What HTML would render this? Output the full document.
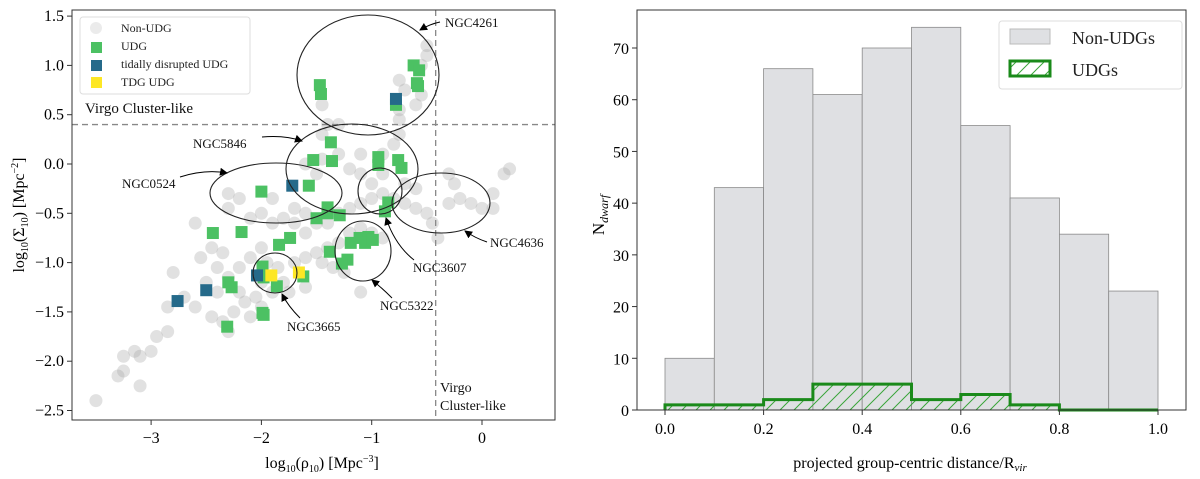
<!DOCTYPE html>
<html><head><meta charset="utf-8">
<style>
html,body{margin:0;padding:0;background:#fff;}
svg{display:block;font-family:"Liberation Serif","DejaVu Serif",serif;}
</style></head>
<body>
<svg id="fig" width="1200" height="479" viewBox="0 0 1200 479" xmlns="http://www.w3.org/2000/svg">
<defs>
<pattern id="hatch" patternUnits="userSpaceOnUse" width="14" height="14">
<path d="M-2,16 L16,-2 M-9,9 L9,-9 M5,23 L23,5" stroke="#3aa53a" stroke-width="1"/>
</pattern>
<marker id="arr" markerWidth="8" markerHeight="8" refX="7" refY="4" orient="auto"><path d="M0,0 L8,4 L0,8 z" fill="#000"/></marker>
<clipPath id="lclip"><rect x="72" y="10" width="483" height="410"/></clipPath>
</defs>
<g id="left"></g>
<g id="right"></g>
</svg>
<script>
// ---- Left scatter data (log10 rho10, log10 Sigma10) ----
const nonUdgX = [-3.5,-3.3,-3.25,-3.1,-3.25,-3.15,-3.1,-3.0,-2.95,-2.85,-2.85,-2.7,-2.6,-2.45,-2.4,-2.4,-2.35,-2.3,-2.25,-2.2,-2.15,-2.1,-2.05,-2.5,-2.55,-2.45,-2.35,-2.3,-2.2,-2.1,-2.0,-1.95,-1.85,-1.8,-1.75,-1.9,-2.0,-1.7,-1.6,-1.5,-1.45,-1.35,-1.25,-1.4,-1.3,-1.2,-1.1,-1.0,-0.9,-1.6,-1.7,-1.8,-1.9,-2.0,-2.1,-2.3,-2.3,-2.2,-1.9,-1.7,-1.6,-1.5,-1.4,-1.3,-1.2,-1.1,-1.0,-0.9,-0.8,-0.7,-0.6,-0.5,-1.0,-1.1,-1.2,-0.9,-0.7,-0.6,-1.5,-1.45,-1.6,-1.3,-1.1,-0.9,-0.8,-0.75,-0.75,-0.75,-0.7,-0.75,-0.6,-0.55,-0.5,-0.5,-0.55,-1.45,-1.4,-1.45,-1.3,-0.3,-0.25,-0.2,-0.1,0.0,0.1,0.2,0.25,-0.3,0.1,-2.6,-2.8,-2.0,-1.6,-1.1,-0.4,-0.45];
const nonUdgY = [-2.4,-2.15,-2.1,-2.25,-1.95,-1.9,-1.95,-1.9,-1.75,-1.7,-1.45,-1.35,-1.45,-1.55,-1.3,-1.05,-1.6,-1.7,-1.5,-1.3,-1.4,-1.55,-1.35,-1.2,-0.95,-0.85,-0.9,-1.15,-1.05,-0.95,-0.85,-1.0,-1.05,-1.2,-1.3,-1.3,-1.2,-1.0,-0.95,-0.9,-1.0,-1.05,-1.1,-0.85,-0.8,-0.7,-0.65,-0.7,-0.75,-0.7,-0.6,-0.55,-0.6,-0.5,-0.55,-0.45,-0.3,-0.35,-0.35,-0.45,-0.5,-0.6,-0.6,-0.5,-0.45,-0.4,-0.35,-0.3,-0.35,-0.4,-0.45,-0.5,-0.2,-0.1,-0.05,-0.1,-0.2,-0.25,-0.1,0.05,0.0,0.1,0.1,0.1,0.2,0.3,0.45,0.55,0.75,0.85,0.6,0.7,1.1,1.2,1.0,0.6,0.4,0.3,0.4,-0.1,-0.2,-0.35,-0.4,-0.45,-0.3,-0.1,-0.05,-0.4,-0.45,-0.6,-1.1,-1.45,-1.25,-1.3,-0.75,-0.6];
const udgX = [-1.47,-1.46,-0.62,-0.57,-0.59,-0.58,-0.78,-1.37,-1.53,-1.36,-0.94,-0.94,-0.76,-0.73,-1.57,-2.0,-0.85,-0.88,-1.4,-1.4,-1.29,-1.5,-2.44,-2.18,-1.84,-1.74,-1.38,-1.19,-1.11,-1.03,-1.06,-0.99,-1.22,-1.27,-1.99,-1.98,-1.62,-1.86,-2.3,-2.27,-1.99,-1.98,-2.31];
const udgY = [0.8,0.71,1.0,0.95,0.82,0.79,0.6,0.22,0.04,0.03,0.07,-0.01,0.04,-0.04,-0.22,-0.28,-0.39,-0.48,-0.44,-0.5,-0.52,-0.55,-0.7,-0.69,-0.82,-0.75,-0.89,-0.8,-0.75,-0.74,-0.8,-0.77,-0.97,-1.01,-1.04,-1.15,-1.14,-1.24,-1.2,-1.25,-1.51,-1.53,-1.65];
const tidalX = [-1.72,-0.78,-2.04,-2.5,-2.76];
const tidalY = [-0.22,0.66,-1.13,-1.28,-1.39];
const tdgX = [-1.91,-1.66];
const tdgY = [-1.13,-1.1];
const leftXTicks = [-3,-2,-1,0];
const leftYTicks = [1.5,1.0,0.5,0.0,-0.5,-1.0,-1.5,-2.0,-2.5];
// ---- Right histogram data ----
const binEdges = [0,0.1,0.2,0.3,0.4,0.5,0.6,0.7,0.8,0.9,1.0];
const nonUdgCounts = [10,43,66,61,70,74,55,41,34,23];
const udgCounts = [1,1,2,5,5,2,3,1,0,0];
const rightXTicks = [0.0,0.2,0.4,0.6,0.8,1.0];
const rightYTicks = [0,10,20,30,40,50,60,70];

const NS="http://www.w3.org/2000/svg";
function mk(parent,tag,attrs,text){const e=document.createElementNS(NS,tag);for(const k in attrs)e.setAttribute(k,attrs[k]);if(text!==undefined)e.textContent=text;parent.appendChild(e);return e;}

// ---------- LEFT ----------
const L=document.getElementById('left');
const lx=v=>482+v*110.3, ly=v=>164-v*98.6;
const pts=mk(L,'g',{'clip-path':'url(#lclip)'});


nonUdgX.forEach((x,i)=>{const c=mk(pts,'circle',{cx:lx(x),cy:ly(nonUdgY[i]),r:6.5,fill:'#a8a8a8','fill-opacity':0.35});

});
function squares(xs,ys,col,name){xs.forEach((x,i)=>{const r=mk(pts,'rect',{x:lx(x)-6,y:ly(ys[i])-6,width:12,height:12,fill:col});

});}
squares(udgX,udgY,'#4cc163','udg-point');
squares(tidalX,tidalY,'#256a8a','tidal-udg-point');
squares(tdgX,tdgY,'#fde725','tdg-udg-point');
mk(L,'line',{x1:72,x2:555,y1:ly(0.4),y2:ly(0.4),stroke:'#888','stroke-dasharray':'6,4','stroke-width':1.3,});
mk(L,'line',{x1:lx(-0.42),x2:lx(-0.42),y1:10,y2:420,stroke:'#888','stroke-dasharray':'6,4','stroke-width':1.3,});
const ells=[['ngc4261',368,75,71,60],['ngc5846',352,169,66,45],['ngc0524',276,193,66,30],['ngc3607',380,191,22,23],['ngc4636',441,203,49,30],['ngc5322',363,251,28,30],['ngc3665',275,273,22,20]];
ells.forEach(e=>{mk(L,'ellipse',{cx:e[1],cy:e[2],rx:e[3],ry:e[4],fill:'none',stroke:'#222','stroke-width':1.1,});});
const labels=[['NGC4261',445,27,'M440,22 Q430,24 420,30'],['NGC5846',193,148,'M262,137 Q285,135 302,141'],['NGC0524',122,188,'M180,177 Q205,169 227,173'],['NGC4636',490,247,'M487,242 Q475,238 465,231'],['NGC3607',413,272,'M414,260 Q395,245 386,218'],['NGC5322',380,310,'M392,298 Q382,288 372,280'],['NGC3665',287,331,'M300,318 Q288,306 282,294']];
labels.forEach(l=>{mk(L,'path',{d:l[3],fill:'none',stroke:'#000','stroke-width':1,'marker-end':'url(#arr)',});
mk(L,'text',{x:l[1],y:l[2],'font-size':13,fill:'#111',},l[0]);});
mk(L,'text',{x:85,y:113,'font-size':15,fill:'#111',},'Virgo Cluster-like');
mk(L,'text',{x:440,y:392,'font-size':14,fill:'#111',},'Virgo');
mk(L,'text',{x:440,y:410,'font-size':14,fill:'#111',},'Cluster-like');
mk(L,'rect',{x:72,y:10,width:483,height:410,fill:'none',stroke:'#333','stroke-width':1,});
leftXTicks.forEach(t=>{mk(L,'line',{x1:lx(t),x2:lx(t),y1:420,y2:425,stroke:'#333'});
mk(L,'text',{x:lx(t),y:443,'font-size':16,'text-anchor':'middle',},t===0?'0':'\u2212'+Math.abs(t));});
leftYTicks.forEach(t=>{mk(L,'line',{x1:67,x2:72,y1:ly(t),y2:ly(t),stroke:'#333'});
mk(L,'text',{x:64,y:ly(t)+5,'font-size':16,'text-anchor':'end',},(t<0?'\u2212':'')+Math.abs(t).toFixed(1));});
const xl=mk(L,'text',{x:322,y:468,'font-size':16,'text-anchor':'middle',});
xl.innerHTML='log<tspan font-size="10" dy="4">10</tspan><tspan dy="-4">(ρ</tspan><tspan font-size="10" dy="4">10</tspan><tspan dy="-4">) [Mpc</tspan><tspan font-size="10" dy="-6">−3</tspan><tspan dy="6">]</tspan>';
const yl=mk(L,'text',{x:0,y:0,'font-size':16,'text-anchor':'middle',transform:'translate(24,215) rotate(-90)',});
yl.innerHTML='log<tspan font-size="10" dy="4">10</tspan><tspan dy="-4">(Σ</tspan><tspan font-size="10" dy="4">10</tspan><tspan dy="-4">) [Mpc</tspan><tspan font-size="10" dy="-6">−2</tspan><tspan dy="6">]</tspan>';
const lg=mk(L,'g',{});
mk(lg,'rect',{x:80,y:17,width:170,height:77,fill:'#fff','fill-opacity':0.85,stroke:'#ddd',rx:3});
mk(lg,'circle',{cx:96,cy:28,r:6,fill:'#ccc','fill-opacity':0.4});
mk(lg,'rect',{x:91,y:42,width:11,height:11,fill:'#4cc163'});
mk(lg,'rect',{x:91,y:60,width:11,height:11,fill:'#256a8a'});
mk(lg,'rect',{x:91,y:77,width:11,height:11,fill:'#fde725'});
[['Non-UDG',32],['UDG',50],['tidally disrupted UDG',68],['TDG UDG',86]].forEach(a=>{const t=mk(lg,'text',{x:121,y:a[1],'font-size':12,fill:'#222'},a[0]);

});

// ---------- RIGHT ----------
const R=document.getElementById('right');
const rx=v=>665+v*493, ry=v=>410-v*(362/70);
for(let i=0;i<nonUdgCounts.length;i++){
 const b=mk(R,'rect',{x:rx(binEdges[i]),y:ry(nonUdgCounts[i]),width:rx(binEdges[i+1])-rx(binEdges[i]),height:410-ry(nonUdgCounts[i]),fill:'#dfe0e3',stroke:'#8a8a8a','stroke-width':0.8});
 
 
}
let d='M'+rx(binEdges[0])+',410';
for(let i=0;i<udgCounts.length;i++){d+=' L'+rx(binEdges[i])+','+ry(udgCounts[i])+' L'+rx(binEdges[i+1])+','+ry(udgCounts[i]);}
d+=' L'+rx(binEdges[binEdges.length-1])+',410';
const h=mk(R,'path',{d:d,fill:'url(#hatch)',stroke:'#1a8a1a','stroke-width':3,'stroke-linejoin':'miter'});


mk(R,'rect',{x:637,y:10,width:549,height:400,fill:'none',stroke:'#333','stroke-width':1,});
rightXTicks.forEach(t=>{mk(R,'line',{x1:rx(t),x2:rx(t),y1:410,y2:415,stroke:'#333'});
mk(R,'text',{x:rx(t),y:434,'font-size':16,'text-anchor':'middle',},t.toFixed(1));});
rightYTicks.forEach(t=>{mk(R,'line',{x1:632,x2:637,y1:ry(t),y2:ry(t),stroke:'#333'});
mk(R,'text',{x:629,y:ry(t)+6,'font-size':16,'text-anchor':'end',},t);});
const rxl=mk(R,'text',{x:910,y:468,'font-size':16,'text-anchor':'middle',});
rxl.innerHTML='projected group-centric distance/R<tspan font-size="11" font-style="italic" dy="3">vir</tspan>';
const ryl=mk(R,'text',{x:0,y:0,'font-size':17,'text-anchor':'middle',transform:'translate(604,215) rotate(-90)',});
ryl.innerHTML='N<tspan font-size="12" font-style="italic" dy="4">dwarf</tspan>';
const rl=mk(R,'g',{});
mk(rl,'rect',{x:999,y:21,width:183,height:68,fill:'#fff',stroke:'#ddd',rx:3});
mk(rl,'rect',{x:1010,y:29,width:40,height:15,fill:'#dfe0e3',stroke:'#bbb'});
mk(rl,'rect',{x:1010,y:61,width:40,height:15,fill:'url(#hatch)',stroke:'#1a8a1a','stroke-width':3});
const t1=mk(rl,'text',{x:1072,y:44,'font-size':18,fill:'#222'},'Non-UDGs');


const t2=mk(rl,'text',{x:1072,y:76,'font-size':18,fill:'#222'},'UDGs');


</script>
</body></html>
